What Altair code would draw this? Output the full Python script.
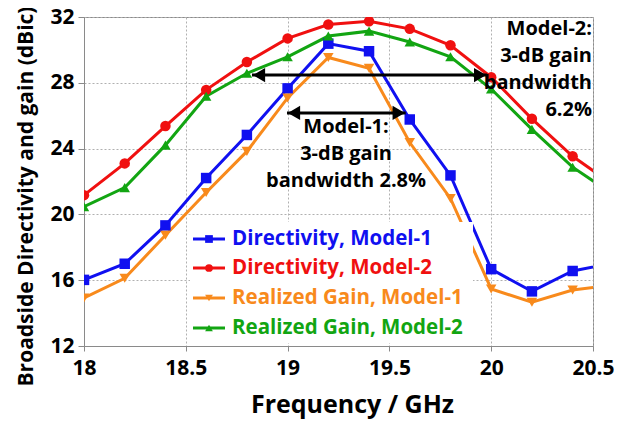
import altair as alt
import pandas as pd

# ---------------- data ----------------
freq = [18.0, 18.2, 18.4, 18.6, 18.8, 19.0, 19.2, 19.4, 19.6, 19.8, 20.0, 20.2, 20.4, 20.6]
dir_m1 = [16.02, 17.0, 19.33, 22.21, 24.83, 27.66, 30.38, 29.92, 25.77, 22.37, 16.67, 15.32, 16.56, 17.04]
dir_m2 = [21.17, 23.1, 25.37, 27.57, 29.26, 30.70, 31.54, 31.74, 31.28, 30.28, 28.34, 25.81, 23.53, 21.8]
gain_m1 = [14.92, 16.12, 18.73, 21.33, 23.83, 27.08, 29.54, 28.88, 24.37, 20.97, 15.47, 14.66, 15.40, 15.72]
gain_m2 = [20.47, 21.63, 24.21, 27.18, 28.58, 29.58, 30.84, 31.14, 30.48, 29.58, 27.62, 25.17, 22.87, 21.2]

series_names = ["Directivity, Model-1", "Directivity, Model-2",
                "Realized Gain, Model-1", "Realized Gain, Model-2"]
series_values = [dir_m1, dir_m2, gain_m1, gain_m2]
series_colors = ["#1010F0", "#F01010", "#F88A1C", "#12A512"]
series_shapes = ["square", "circle", "triangle-down", "triangle-up"]

x_ticks = [18, 18.5, 19, 19.5, 20, 20.5]
y_ticks = [12, 16, 20, 24, 28, 32]

# bandwidth arrows (frequency start, frequency end, level in dBic)
arrow_x1 = [18.825, 18.997]
arrow_x2 = [19.98, 19.58]
arrow_y = [28.47, 26.17]

# annotation texts
note1_lines = ["Model-1:", "3-dB gain", "bandwidth 2.8%"]
note1_x, note1_y = 19.287, 25.33
note2_lines = ["Model-2:", "3-dB gain", "bandwidth", "6.2%"]
note2_x, note2_y = 20.495, 31.28

FONT = "Open Sans"

rows = []
for name, vals in zip(series_names, series_values):
    for f, v in zip(freq, vals):
        rows.append({"freq": f, "value": v, "series": name})
df = pd.DataFrame(rows)

xscale = alt.Scale(domain=[18, 20.5], nice=False, zero=False)
yscale = alt.Scale(domain=[12, 32], nice=False, zero=False)
color_scale = alt.Scale(domain=series_names, range=series_colors)
shape_scale = alt.Scale(domain=series_names, range=series_shapes)

xaxis = alt.Axis(values=x_ticks, title="Frequency / GHz", labelExpr="datum.value",
                 labelFlush=False,
                 titleX=268, titleY=58, titleAnchor="start", titleAlign="center",
                 titleBaseline="middle", labelPadding=6, tickSize=5)
yaxis = alt.Axis(values=y_ticks, title="Broadside Directivity and gain (dBic)",
                 titleX=-58, titleY=179, titleAlign="center", titleBaseline="middle",
                 titleAngle=270, labelPadding=4, tickSize=6, labelFlush=False)

base = alt.Chart(df).encode(
    x=alt.X("freq:Q", scale=xscale, axis=xaxis),
    y=alt.Y("value:Q", scale=yscale, axis=yaxis),
    color=alt.Color("series:N", scale=color_scale, legend=None),
)

lines = base.mark_line(strokeWidth=3, clip=True)
points = base.mark_point(filled=True, opacity=1, size=110, clip=True).encode(
    shape=alt.Shape("series:N", scale=shape_scale, legend=None)
)

# arrows
adf = pd.DataFrame({"x1": arrow_x1, "x2": arrow_x2, "y": arrow_y})
arrow_line = alt.Chart(adf).mark_rule(color="black", strokeWidth=3).encode(
    x="x1:Q", x2="x2:Q", y="y:Q")
arrow_left = alt.Chart(adf).mark_point(shape="triangle-left", filled=True, color="black",
                                       opacity=1, size=200, xOffset=7).encode(x="x1:Q", y="y:Q")
arrow_right = alt.Chart(adf).mark_point(shape="triangle-right", filled=True, color="black",
                                        opacity=1, size=200, xOffset=-7).encode(x="x2:Q", y="y:Q")

n1 = alt.Chart(pd.DataFrame({"x": [note1_x], "y": [note1_y], "t": [note1_lines]})).mark_text(
    font=FONT, fontWeight="bold", fontSize=20, color="black", align="center",
    baseline="middle", lineHeight=27).encode(x="x:Q", y="y:Q", text="t")
n2 = alt.Chart(pd.DataFrame({"x": [note2_x], "y": [note2_y], "t": [note2_lines]})).mark_text(
    font=FONT, fontWeight="bold", fontSize=20, color="black", align="right",
    baseline="middle", lineHeight=27).encode(x="x:Q", y="y:Q", text="t")

# legend (manual, white box)
one = pd.DataFrame({"k": [0]})
legend_layers = [
    alt.Chart(one).mark_rect(color="white").encode(
        x=alt.value(106), x2=alt.value(389), y=alt.value(205), y2=alt.value(326))
]
row_y = [222, 251, 281, 311]
for name, col, shp, ry in zip(series_names, series_colors, series_shapes, row_y):
    ldf = pd.DataFrame({"label": [name]})
    legend_layers.append(alt.Chart(ldf).mark_rule(color=col, strokeWidth=3).encode(
        x=alt.value(109), x2=alt.value(141), y=alt.value(ry)))
    legend_layers.append(alt.Chart(ldf).mark_point(shape=shp, filled=True, color=col,
                                                   opacity=1, size=60).encode(
        x=alt.value(125), y=alt.value(ry)))
    legend_layers.append(alt.Chart(ldf).mark_text(
        font=FONT, fontWeight="bold", fontSize=20.5, color=col, align="left",
        baseline="middle").encode(x=alt.value(148), y=alt.value(ry), text="label:N"))

chart = alt.layer(lines, points, *legend_layers, arrow_line, arrow_left, arrow_right, n1, n2).properties(
    width=509, height=329,
    autosize=alt.AutoSizeParams(type="none"),
    padding={"left": 76, "top": 9, "right": 30, "bottom": 74},
).configure_view(
    stroke="#8a8a8a", strokeWidth=1
).configure_axis(
    labelFont=FONT, labelFontWeight="bold", labelFontSize=21, labelColor="black",
    titleFont=FONT, titleFontWeight="bold", titleColor="black",
    gridColor="#b0b0b0", gridDash=[2, 2], gridWidth=1,
    domainColor="#8a8a8a", tickColor="#8a8a8a",
).configure_axisX(titleFontSize=25).configure_axisY(titleFontSize=21)

chart.save("out.html", embed_options={"renderer": "svg", "actions": False})
